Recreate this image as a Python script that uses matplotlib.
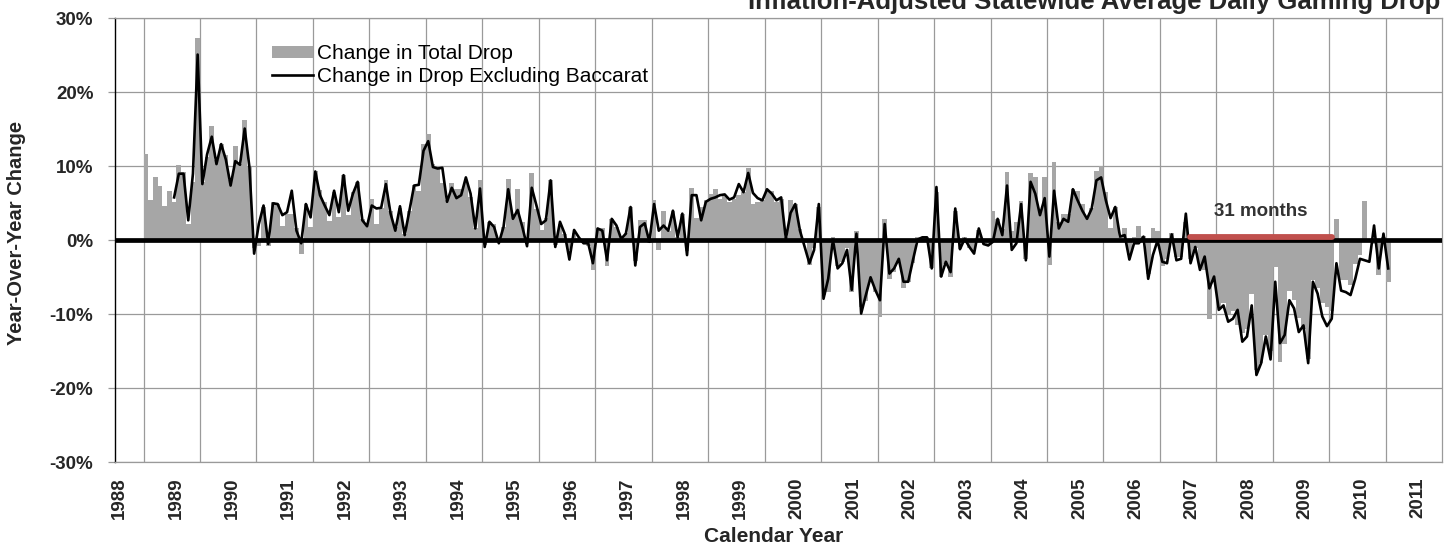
import numpy as np
import matplotlib
matplotlib.use("Agg")
import matplotlib.pyplot as plt
from matplotlib import font_manager
from matplotlib.transforms import ScaledTranslation
from matplotlib.patches import Patch
from matplotlib.lines import Line2D

# ---------------- data (monthly, starting January 1989) ----------------
start_year = 1989
total_drop = [
    11.6, 5.4, 8.5, 7.4, 4.6, 6.7, 5.2, 10.2, 9.2, 2.2, 7.9, 27.3,      # 1989
    7.9, 11.2, 15.4, 10.8, 13.0, 11.5, 8.1, 12.7, 10.3, 16.3, 9.9, -1.0, # 1990
    -0.8, 4.5, -0.8, 5.2, 4.9, 2.0, 3.6, 3.6, 1.6, -1.9, 4.9, 1.8,      # 1991
    9.3, 6.8, 5.2, 2.6, 6.5, 3.2, 8.8, 3.4, 6.5, 7.9, 2.9, 2.2,         # 1992
    5.6, 2.2, 4.3, 8.1, 4.0, 1.8, 4.3, 0.9, 4.0, 7.5, 6.7, 13.0,        # 1993
    14.3, 10.3, 9.7, 7.7, 5.4, 7.7, 6.9, 6.9, 8.1, 5.8, 1.6, 8.1,       # 1994
    -0.7, 2.5, 2.2, -0.2, 1.8, 8.3, 3.6, 7.0, 2.5, -0.5, 9.1, 4.2,      # 1995
    1.4, 3.0, 8.1, -0.6, 2.2, 0.9, -1.3, 1.0, 0.3, -0.4, -0.8, -4.0,    # 1996
    1.7, 1.6, -3.5, 2.9, 1.8, 0.5, 1.0, 4.5, -2.8, 2.7, 2.7, -0.3,      # 1997
    5.5, -1.3, 4.0, 1.3, 4.0, 0.4, 3.6, -1.5, 7.1, 3.0, 4.5, 5.4,       # 1998
    6.2, 7.0, 5.6, 6.0, 5.2, 5.6, 6.1, 6.5, 9.8, 4.9, 5.2, 5.4,         # 1999
    6.7, 6.6, 5.2, 5.6, 0.5, 5.4, 4.9, 1.5, -0.4, -3.4, -1.0, 4.5,      # 2000
    -7.4, -7.0, 0.4, -3.5, -2.9, -1.0, -7.0, 1.2, -9.0, -8.2, -5.5, -7.0,  # 2001
    -10.3, 2.9, -5.2, -4.3, -3.0, -6.5, -5.6, -3.0, 0.4, 0.5, 0.5, -3.8,   # 2002
    6.5, -4.9, -3.2, -4.9, 4.0, -1.2, 0.4, -1.0, -1.5, 1.4, -0.4, -0.7,    # 2003
    4.0, 2.9, 1.5, 9.2, 1.3, 2.5, 5.3, -2.5, 9.1, 8.6, 4.0, 8.6,        # 2004
    -3.4, 10.6, 2.5, 3.6, 3.6, 6.9, 6.7, 4.9, 3.0, 4.3, 9.4, 10.0,      # 2005
    6.5, 1.6, 4.5, 0.5, 1.7, -2.0, 0.5, 2.0, 0.6, -4.5, 1.7, 1.3,       # 2006
    -3.5, -2.5, 1.0, -2.2, -2.2, 2.5, -2.5, -1.0, -3.5, -4.0, -10.6, -5.5,  # 2007
    -9.0, -8.5, -10.0, -9.5, -11.5, -12.5, -12.0, -7.2, -17.5, -16.6, -12.8, -15.0,  # 2008
    -3.6, -16.4, -14.0, -6.8, -8.0, -10.5, -12.0, -16.0, -5.4, -6.5, -8.5, -9.0,    # 2009
    -9.5, 2.9, -5.4, -5.4, -6.0, -3.2, -2.0, 5.3, 0.0, -0.5, -4.7, 0.5,   # 2010
    -5.6,                                                                 # 2011
]
drop_ex_baccarat = [
    None, None, None, None, None, None, 5.8, 9.0, 9.0, 2.7, 9.0, 25.1,   # 1989
    7.6, 11.6, 14.0, 10.3, 13.0, 10.9, 7.4, 10.7, 10.2, 15.1, 9.9, -1.8, # 1990
    2.2, 4.7, -0.5, 5.0, 4.9, 3.4, 3.8, 6.7, 1.3, -0.4, 4.9, 3.1,       # 1991
    9.3, 6.1, 4.7, 3.4, 6.7, 3.8, 8.8, 4.0, 6.3, 7.9, 2.7, 1.9,         # 1992
    4.7, 4.3, 4.4, 7.6, 3.6, 1.3, 4.6, 0.7, 4.0, 7.4, 7.5, 12.1,        # 1993
    13.4, 9.9, 9.7, 9.8, 5.2, 7.1, 5.7, 6.1, 8.5, 6.3, 1.6, 7.0,        # 1994
    -0.9, 2.5, 1.8, -0.4, 1.8, 6.9, 2.9, 4.1, 1.8, -0.8, 7.1, 4.7,      # 1995
    2.2, 2.7, 8.1, -0.9, 2.5, 0.9, -2.6, 1.4, 0.4, -0.4, -0.4, -3.1,    # 1996
    1.6, 1.3, -2.7, 2.9, 2.0, 0.2, 0.9, 4.5, -3.4, 1.8, 2.3, -0.2,      # 1997
    4.9, 1.3, 2.0, 1.3, 4.0, 0.4, 3.6, -2.0, 6.1, 6.1, 2.7, 5.2,        # 1998
    5.6, 5.8, 6.1, 6.2, 5.5, 5.8, 7.6, 6.5, 9.1, 6.4, 5.7, 5.4,         # 1999
    6.9, 6.3, 5.4, 5.8, 0.2, 3.7, 4.9, 1.3, -0.9, -3.1, -1.3, 4.9,      # 2000
    -7.9, -5.2, 0.1, -3.8, -3.1, -1.3, -6.7, 0.9, -9.9, -7.4, -5.0, -6.7,  # 2001
    -8.1, 2.2, -4.5, -3.8, -2.5, -5.6, -5.6, -2.7, 0.1, 0.4, 0.4, -3.8,    # 2002
    7.2, -4.9, -2.9, -4.3, 4.3, -1.2, 0.2, -0.9, -1.8, 1.6, -0.5, -0.7,    # 2003
    -0.2, 2.9, 0.7, 7.4, -1.3, -0.4, 4.9, -2.7, 7.9, 6.3, 3.4, 5.7,     # 2004
    -2.2, 6.7, 1.6, 2.9, 2.5, 6.9, 5.4, 4.0, 2.9, 4.3, 8.1, 8.5,        # 2005
    5.4, 3.0, 4.5, 0.5, 0.7, -2.6, -0.4, -0.4, 0.5, -5.2, -2.0, 0.0,    # 2006
    -2.9, -3.1, 0.8, -2.7, -2.5, 3.6, -3.1, -0.9, -4.0, -2.2, -6.5, -4.9,  # 2007
    -9.4, -8.8, -11.0, -10.6, -9.4, -13.7, -13.0, -8.8, -18.2, -16.6, -13.0, -16.1,  # 2008
    -5.6, -13.9, -12.8, -8.1, -9.2, -12.4, -11.5, -16.6, -5.6, -7.2, -10.3, -11.6,   # 2009
    -10.6, -3.1, -6.8, -7.0, -7.4, -5.2, -2.5, -2.7, -2.9, 2.0, -3.8, 0.9,  # 2010
    -3.8,                                                                    # 2011
]
year_labels = [str(y) for y in range(1988, 2012)]
y_ticks = [-30, -20, -10, 0, 10, 20, 30]
y_tick_labels = [f"{v}%" for v in y_ticks]
streak_first_month = 222          # July 2007 (months after Jan 1989)
streak_months = 31
streak_label = "31 months"
legend_labels = ["Change in Total Drop", "Change in Drop Excluding Baccarat"]
title = "Inflation-Adjusted Statewide Average Daily Gaming Drop"

# ---------------- style ----------------
W, H = 1451, 550
names = {f.name for f in font_manager.fontManager.ttflist}
REG = 'Liberation Sans' if 'Liberation Sans' in names else 'DejaVu Sans'
NARROW = 'Liberation Sans Narrow' if 'Liberation Sans Narrow' in names else REG
TXT = '#262626'
BAR = '#a6a6a6'
GRID = '#9a9a9a'

fig = plt.figure(figsize=(W / 100, H / 100), dpi=100)
L, R, T, B = 115.3, 1442.3, 18.3, 462.3
ax = fig.add_axes([L / W, 1 - B / H, (R - L) / W, (B - T) / H])

n = len(total_drop)
xpos = start_year + (np.arange(n) + 0.5) / 12.0
ex = np.array([np.nan if v is None else v for v in drop_ex_baccarat], dtype=float)

ax.bar(xpos, total_drop, width=1 / 12.0, color=BAR, linewidth=0, zorder=2)
ax.plot(xpos, ex, color='black', lw=1.9, zorder=3)
ax.axhline(0, color='black', lw=3.4, zorder=4)

x0 = start_year + streak_first_month / 12.0
x1 = start_year + (streak_first_month + streak_months) / 12.0
ax.plot([x0 + 0.03, x1 - 0.03], [0.4, 0.4], color='#c0504d', lw=4.2,
        solid_capstyle='round', zorder=5)
ax.text((x0 + x1) / 2, 3.9, streak_label, ha='center', va='center',
        fontsize=16 if NARROW != REG else 13.5, fontweight='bold',
        family=NARROW, color='#333333', zorder=6)

ax.set_xlim(1988.5, 2012.0)
ax.set_ylim(-30, 30)

# x axis: labels centred in each calendar year, gridlines at year boundaries
ax.set_xticks(np.arange(1988, 2012) + 0.5)
ax.set_xticklabels(year_labels, rotation=90, fontsize=16 if NARROW != REG else 13.5,
                   fontweight='bold', family=NARROW, color=TXT)
ax.set_xticks(np.arange(1989, 2012), minor=True)
ax.tick_params(axis='x', which='both', length=0, pad=11)
ax.grid(which='minor', axis='x', color=GRID, lw=0.9, zorder=0)
for lab in ax.get_xticklabels():
    lab.set_transform(lab.get_transform() + ScaledTranslation(3 / 72, 0, fig.dpi_scale_trans))

ax.set_yticks(y_ticks)
ax.set_yticklabels(y_tick_labels, fontsize=13.5, fontweight='bold', family=REG, color=TXT)
ax.tick_params(axis='y', length=4.7, width=0.9, color=GRID, pad=11)
ax.grid(which='major', axis='y', color=GRID, lw=0.9, zorder=0)
ax.set_axisbelow(True)

for s in ['top', 'right', 'bottom']:
    ax.spines[s].set_color(GRID)
    ax.spines[s].set_linewidth(0.9)
ax.spines['left'].set_color('black')
ax.spines['left'].set_linewidth(1.0)

handles = [Patch(facecolor=BAR, edgecolor='none'),
           Line2D([], [], color='black', lw=1.9)]
ax.legend(handles, legend_labels, loc='upper left', bbox_to_anchor=(0.118, 0.941),
          frameon=False, prop={'family': REG, 'size': 15},
          handlelength=1.97, handleheight=0.5, handletextpad=0.18,
          labelspacing=0.15, borderpad=0, borderaxespad=0)

fig.text(1440 / W, 1 - 9 / H, title, ha='right', va='baseline', fontsize=18.5,
         fontweight='bold', family=REG, color=TXT)
fig.text(16.5 / W, 1 - 232.5 / H, 'Year-Over-Year Change', rotation=90, ha='center',
         va='center', fontsize=14.5, fontweight='bold', family=REG, color=TXT)
fig.text(774 / W, 1 - 536 / H, 'Calendar Year', ha='center', va='center',
         fontsize=15, fontweight='bold', family=REG, color=TXT)

fig.savefig('out.png', dpi=100, facecolor='white')
